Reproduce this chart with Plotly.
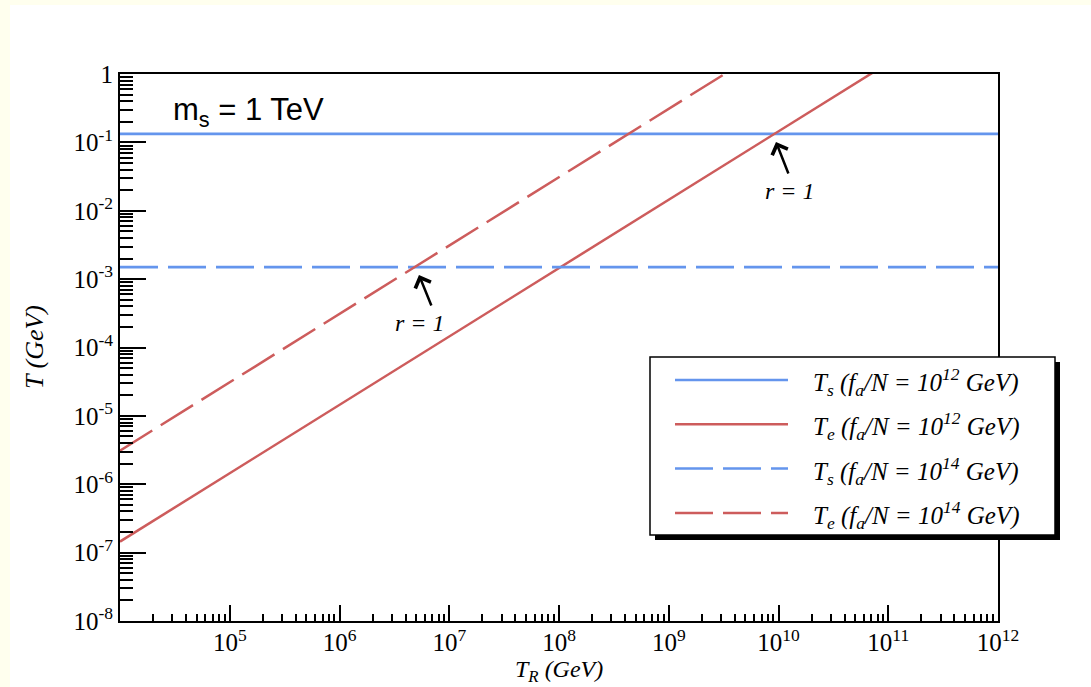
import plotly.graph_objects as go

# Reheating temperature grid (GeV)
t_r = [1e4, 1e5, 1e6, 1e7, 1e8, 1e9, 1e10, 1e11]
t_r_flat = [1e4, 1e12]

# Temperatures (GeV) for m_s = 1 TeV
ts_fa12 = [0.133, 0.133]
ts_fa14 = [1.5e-3, 1.5e-3]
te_fa12 = [1.45e-7, 1.45e-6, 1.45e-5, 1.45e-4, 1.45e-3, 1.45e-2, 1.45e-1, 1.45]
te_fa14 = [3.1e-6, 3.1e-5, 3.1e-4, 3.1e-3, 3.1e-2, 3.1e-1, 3.1, 31.0]

y_tickvals = [1e-8, 1e-7, 1e-6, 1e-5, 1e-4, 1e-3, 1e-2, 1e-1, 1]
y_ticktext = ["10<sup>-8</sup>", "10<sup>-7</sup>", "10<sup>-6</sup>", "10<sup>-5</sup>",
              "10<sup>-4</sup>", "10<sup>-3</sup>", "10<sup>-2</sup>", "10<sup>-1</sup>", "1"]
x_tickvals = [1e5, 1e6, 1e7, 1e8, 1e9, 1e10, 1e11, 1e12]
x_ticktext = ["10<sup>%d</sup>" % k for k in range(5, 13)]

legend_labels = [
    "<i>T<sub>s</sub> (f<sub>a</sub>/N = 10<sup>12</sup> GeV)</i>",
    "<i>T<sub>e</sub> (f<sub>a</sub>/N = 10<sup>12</sup> GeV)</i>",
    "<i>T<sub>s</sub> (f<sub>a</sub>/N = 10<sup>14</sup> GeV)</i>",
    "<i>T<sub>e</sub> (f<sub>a</sub>/N = 10<sup>14</sup> GeV)</i>",
]

BLUE = "#6495ED"
RED = "#CD5C5C"
DASH = "38px,10px"
SERIF = "Liberation Serif"
styles = [(BLUE, "solid"), (RED, "solid"), (BLUE, DASH), (RED, DASH)]

W, H = 1091, 687
L, R, T, B = 120, 93, 74, 66
PW, PH = W - L - R, H - T - B


def px(xp):
    return (xp - L) / PW


def py(yp):
    return (H - B - yp) / PH


fig = go.Figure()
fig.add_trace(go.Scatter(x=t_r_flat, y=ts_fa12, mode="lines",
                         line=dict(color=BLUE, width=2.7), showlegend=False))
fig.add_trace(go.Scatter(x=t_r, y=te_fa12, mode="lines",
                         line=dict(color=RED, width=2.5), showlegend=False))
fig.add_trace(go.Scatter(x=t_r_flat, y=ts_fa14, mode="lines",
                         line=dict(color=BLUE, width=2.7, dash=DASH), showlegend=False))
fig.add_trace(go.Scatter(x=t_r, y=te_fa14, mode="lines",
                         line=dict(color=RED, width=2.5, dash=DASH), showlegend=False))

shapes = [
    # white page inside the ivory frame
    dict(type="rect", xref="paper", yref="paper", x0=px(10), x1=px(W + 5),
         y0=py(H + 5), y1=py(5), fillcolor="white", line=dict(width=0), layer="below"),
    # legend shadow and box
    dict(type="rect", xref="paper", yref="paper", x0=px(655), x1=px(1060),
         y0=py(540), y1=py(362), fillcolor="black", line=dict(width=0)),
    dict(type="rect", xref="paper", yref="paper", x0=px(650), x1=px(1055),
         y0=py(535), y1=py(357), fillcolor="white", line=dict(color="black", width=1.5)),
]
annotations = []
for i, ((col, dash), lab) in enumerate(zip(styles, legend_labels)):
    yy = 380 + i * 44.3
    shapes.append(dict(type="line", xref="paper", yref="paper", x0=px(675), x1=px(788),
                       y0=py(yy), y1=py(yy), line=dict(color=col, width=2.5, dash=dash)))
    annotations.append(dict(xref="paper", yref="paper", x=px(811), y=py(yy + 2), text=lab,
                            showarrow=False, xanchor="left", yanchor="middle",
                            font=dict(family=SERIF, size=25, color="black")))

annotations += [
    dict(xref="x", yref="y", x=4.465, y=-0.556, text="m<sub>s</sub> = 1 TeV", showarrow=False,
         xanchor="left", yanchor="middle", font=dict(family="Liberation Sans", size=31, color="black")),
    dict(xref="x", yref="y", x=6.733, y=-3.64, text="<i>r = 1</i>", showarrow=False,
         xanchor="center", yanchor="middle", font=dict(family=SERIF, size=24, color="black")),
    dict(xref="x", yref="y", x=10.105, y=-1.71, text="<i>r = 1</i>", showarrow=False,
         xanchor="center", yanchor="middle", font=dict(family=SERIF, size=24, color="black")),
    dict(xref="x", yref="y", x=6.724, y=-2.94, text="", showarrow=True, arrowhead=4,
         arrowsize=1.3, arrowwidth=2.5, arrowcolor="black", ax=13, ay=32),
    dict(xref="x", yref="y", x=9.977, y=-0.994, text="", showarrow=True, arrowhead=4,
         arrowsize=1.3, arrowwidth=2.5, arrowcolor="black", ax=13, ay=33),
    dict(xref="paper", yref="paper", x=px(559), y=py(671), text="<i>T<sub>R</sub> (GeV)</i>",
         showarrow=False, xanchor="center", yanchor="middle",
         font=dict(family=SERIF, size=24, color="black")),
    dict(xref="paper", yref="paper", x=px(34), y=py(347), text="<i>T (GeV)</i>", textangle=-90,
         showarrow=False, xanchor="center", yanchor="middle",
         font=dict(family=SERIF, size=26, color="black")),
]

axis_common = dict(type="log", showgrid=False, zeroline=False, showline=True, linecolor="black",
                   linewidth=2, mirror=True, ticks="inside", tickcolor="black", tickwidth=1.5,
                   tickfont=dict(family=SERIF, size=25, color="black"))

fig.update_layout(
    width=W, height=H, margin=dict(l=L, r=R, t=T, b=B),
    paper_bgcolor="#FFFFEE", plot_bgcolor="white",
    shapes=shapes, annotations=annotations, showlegend=False,
    xaxis=dict(axis_common, range=[4, 12], tickmode="array", tickvals=x_tickvals,
               ticktext=x_ticktext, ticklen=16, ticklabelstandoff=-2,
               minor=dict(ticks="inside", ticklen=7, dtick="D1", tickcolor="black", tickwidth=1.5)),
    yaxis=dict(axis_common, range=[-8, 0], tickmode="array", tickvals=y_tickvals,
               ticktext=y_ticktext, ticklen=26,
               minor=dict(ticks="inside", ticklen=13, dtick="D1", tickcolor="black", tickwidth=1.5)),
)

fig.write_html("out.html")
